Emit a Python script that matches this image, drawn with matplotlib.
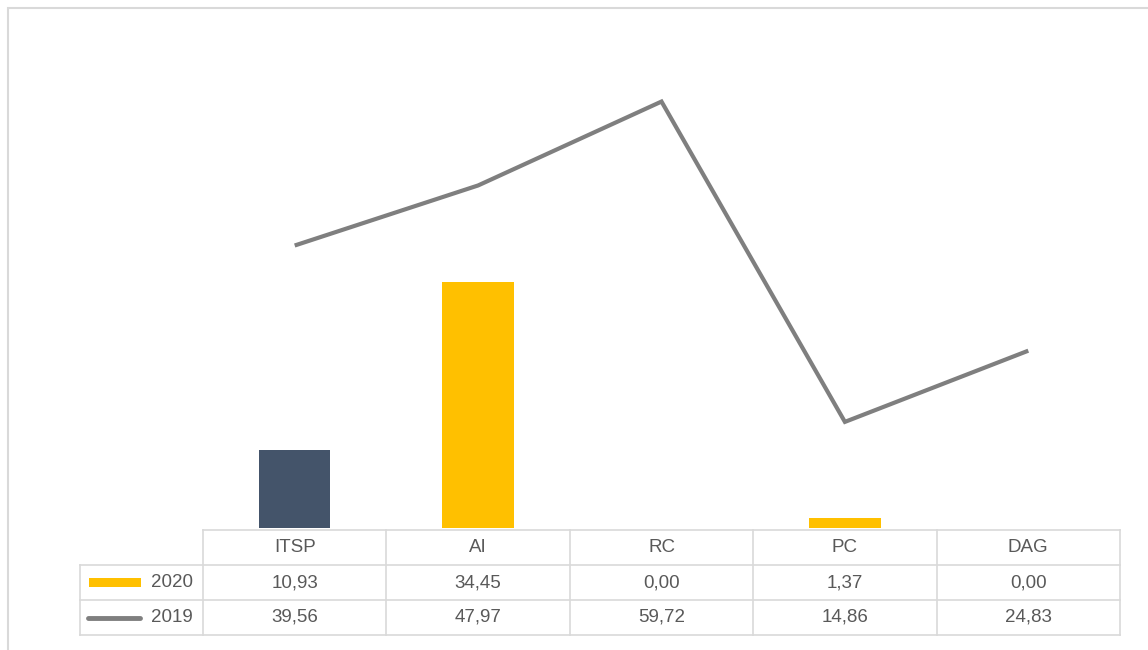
import matplotlib
matplotlib.use("Agg")
import matplotlib.pyplot as plt
from matplotlib.patches import Rectangle
from matplotlib.lines import Line2D

categories = ["ITSP", "AI", "RC", "PC", "DAG"]
values_2020 = [10.93, 34.45, 0.00, 1.37, 0.00]
values_2019 = [39.56, 47.97, 59.72, 14.86, 24.83]
series_names = ["2020", "2019"]

GOLD = "#FFC000"
DARK = "#44546A"
GREY = "#7F7F7F"
GRID = "#D9D9D9"
TXT = "#595959"
plt.rcParams['font.family'] = ['Liberation Sans', 'DejaVu Sans']

W, H = 1148, 650
fig = plt.figure(figsize=(W / 100, H / 100), dpi=100)

def fx(px):
    return px / W

def fy(py):
    return (H - py) / H

# chart border
fig.patches.append(Rectangle((fx(8), -0.05), 1.1, fy(8) + 0.05, transform=fig.transFigure,
                             fill=False, edgecolor=GRID, linewidth=1.5))

# main plot
left, right = 203, 1120
ax = fig.add_axes([fx(left), fy(528), fx(right - left), fy(31) - fy(528)])
x = list(range(len(categories)))
bar_colors = [DARK] + [GOLD] * (len(categories) - 1)
ax.bar(x, values_2020, width=0.39, color=bar_colors, zorder=2)
ax.plot(x, values_2019, color=GREY, linewidth=3, zorder=3, solid_capstyle='butt', solid_joinstyle='miter')
ax.set_xlim(-0.5, len(categories) - 0.5)
ax.set_ylim(0, 69.6)
ax.axis('off')

# data table
col_w = (right - left) / len(categories)
tleft = 80
x0 = -0.5 - (left - tleft) / col_w
tax = fig.add_axes([fx(tleft), fy(635), fx(right - tleft), fy(530) - fy(635)])
tax.set_xlim(x0, len(categories) - 0.5)
tax.set_ylim(3, 0)
tax.axis('off')

lk = dict(color=GRID, linewidth=1.2, clip_on=False)
tax.plot([-0.5, len(categories) - 0.5], [0, 0], **lk)
for yy in [1, 2, 3]:
    tax.plot([x0, len(categories) - 0.5], [yy, yy], **lk)
tax.plot([x0, x0], [1, 3], **lk)
for i in range(len(categories) + 1):
    tax.plot([i - 0.5, i - 0.5], [0, 3], **lk)

fs = 13.5
for i, c in enumerate(categories):
    tax.text(i, 0.5, c, ha='center', va='center', fontsize=fs, color=TXT)
    tax.text(i, 1.5, f"{values_2020[i]:.2f}".replace('.', ','), ha='center', va='center', fontsize=fs, color=TXT)
    tax.text(i, 2.5, f"{values_2019[i]:.2f}".replace('.', ','), ha='center', va='center', fontsize=fs, color=TXT)

lab_x = -0.5 - (203 - 193) / col_w
tax.text(lab_x, 1.5, series_names[0], ha='right', va='center', fontsize=fs, color=TXT)
tax.text(lab_x, 2.5, series_names[1], ha='right', va='center', fontsize=fs, color=TXT)
kx0 = -0.5 - (203 - 89) / col_w
kx1 = -0.5 - (203 - 141) / col_w
tax.add_patch(Rectangle((kx0, 1.36), kx1 - kx0, 0.28, facecolor=GOLD, edgecolor='none', clip_on=False))
lx0 = -0.5 - (203 - 88) / col_w
lx1 = -0.5 - (203 - 140) / col_w
tax.add_line(Line2D([lx0, lx1], [2.52, 2.52], color=GREY, linewidth=3.5, solid_capstyle='round', clip_on=False))

fig.savefig("out.png", dpi=100)
